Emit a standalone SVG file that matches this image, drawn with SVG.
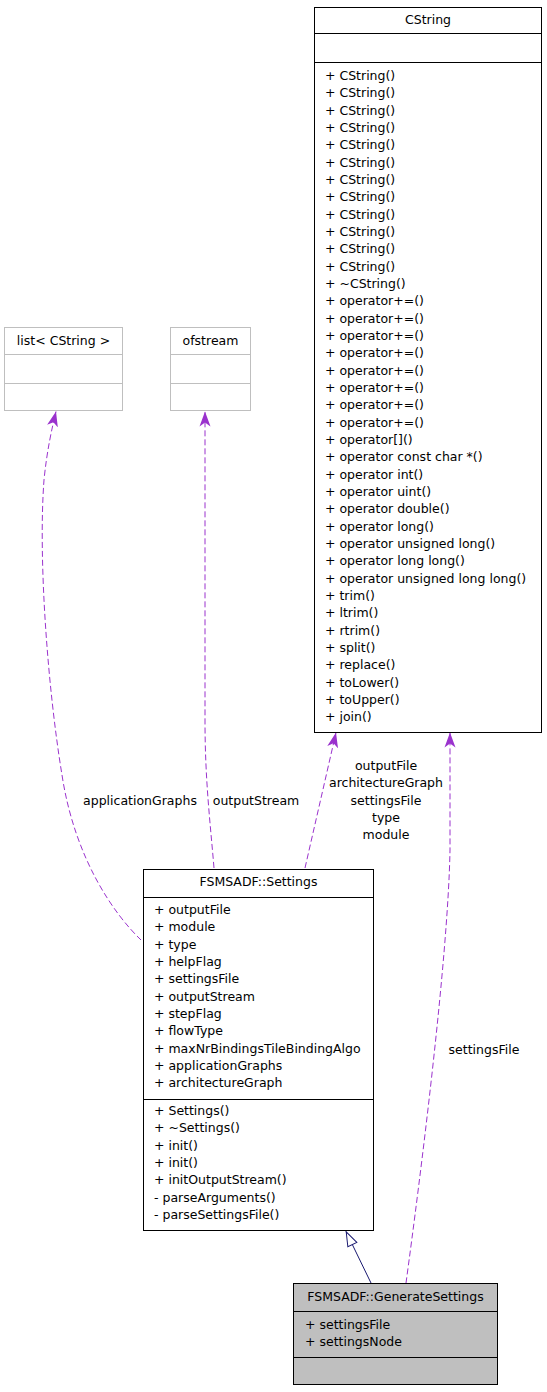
<svg xmlns="http://www.w3.org/2000/svg" width="547" height="1392" viewBox="0 0 547 1392">
<style>
text{font-family:"DejaVu Sans","Liberation Sans",sans-serif;font-size:12.5px;fill:#000}
.c{text-anchor:middle}
.box{fill:#fff;stroke:#000;stroke-width:1}
.gbox{fill:#fff;stroke:#bfbfbf;stroke-width:1}
.sel{fill:#bfbfbf;stroke:#000;stroke-width:1}
.ln{stroke:#000;stroke-width:1}
.gln{stroke:#bfbfbf;stroke-width:1}
.use{fill:none;stroke:#9a32cd;stroke-width:1;stroke-dasharray:6,3;marker-end:url(#vee)}
.inh{fill:none;stroke:#191970;stroke-width:1;marker-end:url(#tri)}
</style>
<defs>
<marker id="vee" viewBox="0 -6 16 12" refX="15" refY="0" markerWidth="16" markerHeight="12" markerUnits="userSpaceOnUse" orient="auto">
<path d="M0,-5.5 L15,0 L0,5.5 L4,0 Z" fill="#9a32cd" stroke="none"/>
</marker>
<marker id="tri" viewBox="-1 -6 17 12" refX="14.5" refY="0" markerWidth="17" markerHeight="12" markerUnits="userSpaceOnUse" orient="auto">
<path d="M0,-5 L14,0 L0,5 Z" fill="#fff" stroke="#191970" stroke-width="1"/>
</marker>
</defs>

<g id="connectors">
<path class="use" d="M141,940 C115,915 75,860 62,775 C48,690 38,560 44,480 C47,450 52,428 56,411.5"/>
<path class="use" d="M214,868 C210,820 205,780 205,720 L205,411.5"/>
<path class="use" d="M305,868 L336,732.5"/>
<path class="use" d="M406,1283 C420,1180 448,960 450,850 L450,732.5"/>
<path class="inh" d="M371,1283 L346,1231.5"/>
<text class="c" x="140" y="805">applicationGraphs</text>
<text class="c" x="256" y="805">outputStream</text>
<text class="c" x="386" y="770">outputFile</text>
<text class="c" x="386" y="787.3">architectureGraph</text>
<text class="c" x="386" y="804.7">settingsFile</text>
<text class="c" x="386" y="822">type</text>
<text class="c" x="386" y="839.3">module</text>
<text class="c" x="484" y="1054">settingsFile</text>
</g>

<g id="CString">
<rect class="box" x="314.5" y="7.5" width="227" height="725"/>
<line class="ln" x1="314.5" y1="33.5" x2="541.5" y2="33.5"/>
<line class="ln" x1="314.5" y1="62.5" x2="541.5" y2="62.5"/>
<text class="c" x="428" y="24">CString</text>
<text x="325" y="80">+ CString()</text>
<text x="325" y="97.3">+ CString()</text>
<text x="325" y="114.7">+ CString()</text>
<text x="325" y="132">+ CString()</text>
<text x="325" y="149.3">+ CString()</text>
<text x="325" y="166.7">+ CString()</text>
<text x="325" y="184">+ CString()</text>
<text x="325" y="201.3">+ CString()</text>
<text x="325" y="218.7">+ CString()</text>
<text x="325" y="236">+ CString()</text>
<text x="325" y="253.3">+ CString()</text>
<text x="325" y="270.7">+ CString()</text>
<text x="325" y="288">+ ~CString()</text>
<text x="325" y="305.3">+ operator+=()</text>
<text x="325" y="322.7">+ operator+=()</text>
<text x="325" y="340">+ operator+=()</text>
<text x="325" y="357.3">+ operator+=()</text>
<text x="325" y="374.7">+ operator+=()</text>
<text x="325" y="392">+ operator+=()</text>
<text x="325" y="409.3">+ operator+=()</text>
<text x="325" y="426.7">+ operator+=()</text>
<text x="325" y="444">+ operator[]()</text>
<text x="325" y="461.3">+ operator const char *()</text>
<text x="325" y="478.7">+ operator int()</text>
<text x="325" y="496">+ operator uint()</text>
<text x="325" y="513.3">+ operator double()</text>
<text x="325" y="530.7">+ operator long()</text>
<text x="325" y="548">+ operator unsigned long()</text>
<text x="325" y="565.3">+ operator long long()</text>
<text x="325" y="582.7">+ operator unsigned long long()</text>
<text x="325" y="600">+ trim()</text>
<text x="325" y="617.3">+ ltrim()</text>
<text x="325" y="634.7">+ rtrim()</text>
<text x="325" y="652">+ split()</text>
<text x="325" y="669.3">+ replace()</text>
<text x="325" y="686.7">+ toLower()</text>
<text x="325" y="704">+ toUpper()</text>
<text x="325" y="721.3">+ join()</text>
</g>

<g id="listCString">
<rect class="gbox" x="4.5" y="327.5" width="118" height="83"/>
<line class="gln" x1="4.5" y1="354.5" x2="122.5" y2="354.5"/>
<line class="gln" x1="4.5" y1="383.5" x2="122.5" y2="383.5"/>
<text class="c" x="63.5" y="345">list&lt; CString &gt;</text>
</g>

<g id="ofstream">
<rect class="gbox" x="170.5" y="327.5" width="80" height="83"/>
<line class="gln" x1="170.5" y1="354.5" x2="250.5" y2="354.5"/>
<line class="gln" x1="170.5" y1="383.5" x2="250.5" y2="383.5"/>
<text class="c" x="210.5" y="345">ofstream</text>
</g>

<g id="Settings">
<rect class="box" x="143.5" y="869.5" width="230" height="361"/>
<line class="ln" x1="143.5" y1="897.5" x2="373.5" y2="897.5"/>
<line class="ln" x1="143.5" y1="1099.5" x2="373.5" y2="1099.5"/>
<text class="c" x="258.5" y="886">FSMSADF::Settings</text>
<text x="154" y="914">+ outputFile</text>
<text x="154" y="931.3">+ module</text>
<text x="154" y="948.7">+ type</text>
<text x="154" y="966">+ helpFlag</text>
<text x="154" y="983.3">+ settingsFile</text>
<text x="154" y="1000.7">+ outputStream</text>
<text x="154" y="1018">+ stepFlag</text>
<text x="154" y="1035.3">+ flowType</text>
<text x="154" y="1052.7">+ maxNrBindingsTileBindingAlgo</text>
<text x="154" y="1070">+ applicationGraphs</text>
<text x="154" y="1087.3">+ architectureGraph</text>
<text x="154" y="1115">+ Settings()</text>
<text x="154" y="1132.3">+ ~Settings()</text>
<text x="154" y="1149.7">+ init()</text>
<text x="154" y="1167">+ init()</text>
<text x="154" y="1184.3">+ initOutputStream()</text>
<text x="154" y="1201.7">- parseArguments()</text>
<text x="154" y="1219">- parseSettingsFile()</text>
</g>

<g id="GenerateSettings">
<rect class="sel" x="293.5" y="1283.5" width="204" height="101"/>
<line class="ln" x1="293.5" y1="1311.5" x2="497.5" y2="1311.5"/>
<line class="ln" x1="293.5" y1="1357.5" x2="497.5" y2="1357.5"/>
<text class="c" x="395.5" y="1301">FSMSADF::GenerateSettings</text>
<text x="305" y="1329">+ settingsFile</text>
<text x="305" y="1346.3">+ settingsNode</text>
</g>
</svg>
